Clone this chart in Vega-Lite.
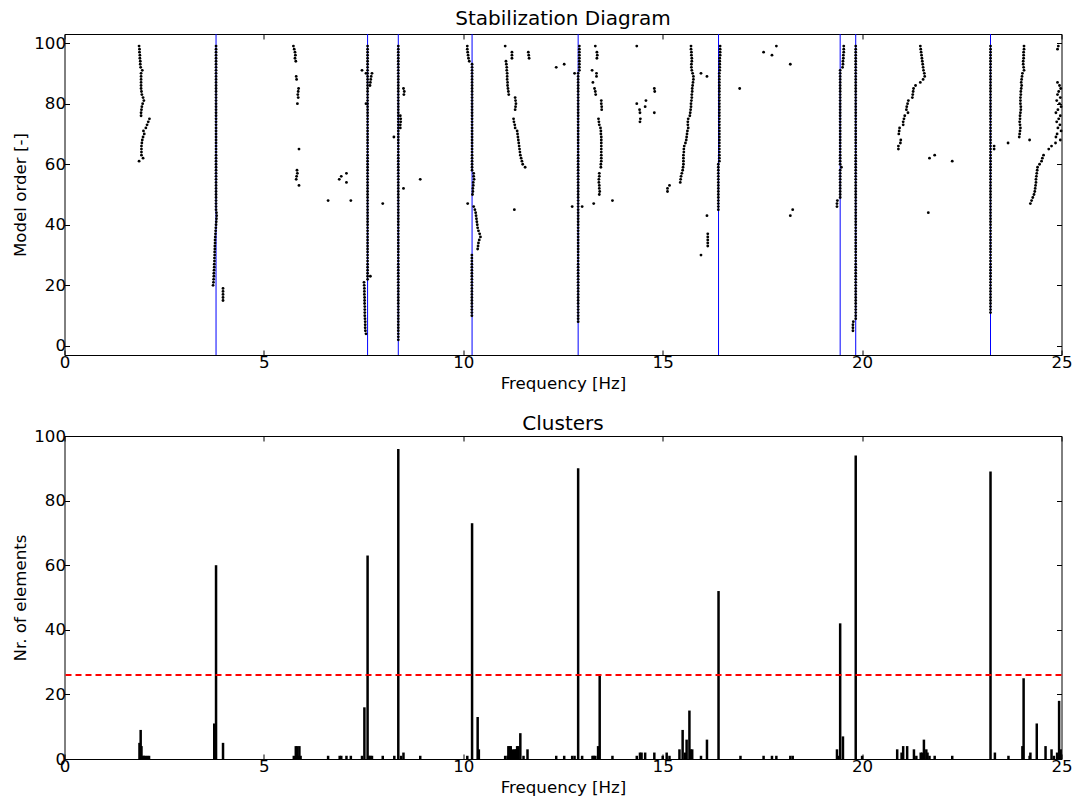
{
"$schema": "https://vega.github.io/schema/vega-lite/v6.json",
"padding": {"left": 11.5, "top": 8, "right": 10, "bottom": 5},
"bounds": "flush",
"spacing": 81,
"config": {
  "font": "DejaVu Sans",
  "view": {"stroke": "#000000", "strokeWidth": 1},
  "axis": {"labelFont": "DejaVu Sans", "titleFont": "DejaVu Sans", "labelFontSize": 16.67, "titleFontSize": 16.67, "labelColor": "#000000", "titleColor": "#000000", "titleFontWeight": "normal", "grid": false, "domain": false, "tickColor": "#000000", "tickSize": -5, "labelPadding": 4, "titlePadding": 4, "labelOverlap": false, "labelFlush": false},
  "axisX": {"titlePadding": 5},
  "title": {"fontSize": 20, "fontWeight": "normal", "font": "DejaVu Sans", "color": "#000000", "offset": 5}
},
"datasets": {
"lines": [{"f":3.8},{"f":7.6},{"f":8.37},{"f":10.22},{"f":12.88},{"f":16.4},{"f":19.45},{"f":19.84},{"f":23.22}],
"bars": [
{"f":1.88,"c":5},{"f":1.91,"c":9},{"f":1.93,"c":4},{"f":1.96,"c":1},{"f":1.99,"c":1},{"f":2.02,"c":1},{"f":2.07,"c":1},{"f":2.12,"c":1},
{"f":3.755,"c":11},{"f":3.8,"c":60},{"f":3.975,"c":5},
{"f":5.75,"c":1},{"f":5.8,"c":4},{"f":5.82,"c":1},{"f":5.84,"c":4},{"f":5.87,"c":1},{"f":5.89,"c":4},{"f":5.92,"c":1},
{"f":6.61,"c":1},{"f":6.9,"c":1},{"f":6.94,"c":1},{"f":7.07,"c":1},{"f":7.18,"c":1},
{"f":7.46,"c":1},{"f":7.52,"c":16},{"f":7.6,"c":63},{"f":7.64,"c":1},{"f":7.67,"c":1},{"f":7.71,"c":1},{"f":7.98,"c":1},{"f":8.27,"c":1},
{"f":8.37,"c":96},{"f":8.44,"c":1},{"f":8.5,"c":2},{"f":8.92,"c":1},
{"f":10.1,"c":1},{"f":10.22,"c":73},{"f":10.36,"c":13},{"f":10.39,"c":3},
{"f":11.05,"c":1},{"f":11.11,"c":1},{"f":11.13,"c":4},{"f":11.16,"c":4},{"f":11.19,"c":4},{"f":11.22,"c":1},{"f":11.25,"c":3},{"f":11.29,"c":3},{"f":11.32,"c":3},{"f":11.35,"c":4},{"f":11.38,"c":4},{"f":11.43,"c":8},{"f":11.51,"c":1},{"f":11.61,"c":3},
{"f":12.33,"c":1},{"f":12.53,"c":1},{"f":12.73,"c":1},{"f":12.79,"c":1},{"f":12.88,"c":90},{"f":12.98,"c":1},
{"f":13.24,"c":1},{"f":13.27,"c":1},{"f":13.31,"c":1},{"f":13.38,"c":4},{"f":13.42,"c":26},{"f":13.74,"c":1},
{"f":14.35,"c":1},{"f":14.43,"c":2},{"f":14.47,"c":2},{"f":14.56,"c":2},{"f":14.79,"c":2},{"f":15.0,"c":1},{"f":15.1,"c":2},{"f":15.17,"c":1},
{"f":15.42,"c":3},{"f":15.5,"c":9},{"f":15.56,"c":2},{"f":15.6,"c":6},{"f":15.67,"c":15},{"f":15.7,"c":3},{"f":15.74,"c":3},{"f":15.96,"c":1},{"f":16.11,"c":6},
{"f":16.4,"c":52},
{"f":16.95,"c":1},{"f":17.53,"c":1},{"f":17.74,"c":1},{"f":17.85,"c":1},{"f":18.2,"c":1},{"f":18.26,"c":1},
{"f":19.37,"c":3},{"f":19.4,"c":1},{"f":19.45,"c":42},{"f":19.52,"c":7},
{"f":19.84,"c":94},{"f":20.0,"c":1},
{"f":20.88,"c":3},{"f":20.99,"c":2},{"f":21.03,"c":4},{"f":21.13,"c":4},{"f":21.3,"c":3},{"f":21.36,"c":1},{"f":21.47,"c":2},{"f":21.51,"c":2},{"f":21.55,"c":6},{"f":21.61,"c":3},{"f":21.64,"c":2},{"f":21.69,"c":1},{"f":21.82,"c":1},{"f":22.26,"c":1},
{"f":23.22,"c":89},{"f":23.33,"c":2},{"f":23.67,"c":1},
{"f":24.02,"c":4},{"f":24.05,"c":25},{"f":24.2,"c":1},{"f":24.22,"c":2},{"f":24.38,"c":11},{"f":24.6,"c":4},{"f":24.75,"c":3},{"f":24.81,"c":1},{"f":24.89,"c":2},{"f":24.94,"c":18},{"f":24.98,"c":3}
],
"pts": [
{"f":1.87,"o":99},{"f":1.88,"o":98},{"f":1.88,"o":97},{"f":1.89,"o":96},{"f":1.89,"o":95},{"f":1.9,"o":94},{"f":1.9,"o":93},{"f":1.91,"o":92},{"f":1.95,"o":91},{"f":1.92,"o":90},{"f":1.92,"o":89},{"f":1.92,"o":88},{"f":1.92,"o":87},{"f":1.92,"o":86},{"f":1.92,"o":85},{"f":1.93,"o":84},{"f":1.94,"o":83},{"f":1.97,"o":82},{"f":1.99,"o":81},{"f":1.96,"o":80},{"f":1.94,"o":79},{"f":1.93,"o":78},{"f":1.92,"o":77},{"f":1.92,"o":76},{"f":2.13,"o":75},{"f":2.1,"o":74},{"f":2.07,"o":73},{"f":2.04,"o":72},{"f":1.98,"o":71},{"f":2.0,"o":70},{"f":1.97,"o":69},{"f":1.95,"o":68},{"f":1.94,"o":67},{"f":1.93,"o":66},{"f":1.93,"o":65},{"f":1.93,"o":64},{"f":1.93,"o":63},{"f":1.97,"o":62},{"f":1.87,"o":61},
{"f":3.8,"o":45},{"f":3.8,"o":46},{"f":3.8,"o":47},{"f":3.8,"o":48},{"f":3.8,"o":49},{"f":3.8,"o":50},{"f":3.8,"o":51},{"f":3.8,"o":52},{"f":3.8,"o":53},{"f":3.8,"o":54},{"f":3.8,"o":55},{"f":3.8,"o":56},{"f":3.8,"o":57},{"f":3.8,"o":58},{"f":3.8,"o":59},{"f":3.8,"o":60},{"f":3.8,"o":61},{"f":3.8,"o":62},{"f":3.8,"o":63},{"f":3.8,"o":64},{"f":3.8,"o":65},{"f":3.8,"o":66},{"f":3.8,"o":67},{"f":3.8,"o":68},{"f":3.8,"o":69},{"f":3.8,"o":70},{"f":3.8,"o":71},{"f":3.8,"o":72},{"f":3.8,"o":73},{"f":3.8,"o":74},{"f":3.8,"o":75},{"f":3.8,"o":76},{"f":3.8,"o":77},{"f":3.8,"o":78},{"f":3.8,"o":79},{"f":3.8,"o":80},{"f":3.8,"o":81},{"f":3.8,"o":82},{"f":3.8,"o":83},{"f":3.8,"o":84},{"f":3.8,"o":85},{"f":3.8,"o":86},{"f":3.8,"o":87},{"f":3.8,"o":88},{"f":3.8,"o":89},{"f":3.8,"o":90},{"f":3.8,"o":91},{"f":3.8,"o":92},{"f":3.8,"o":93},{"f":3.8,"o":94},{"f":3.8,"o":95},{"f":3.8,"o":96},{"f":3.8,"o":97},{"f":3.8,"o":98},{"f":3.8,"o":99},
{"f":3.81,"o":44},{"f":3.815,"o":43},{"f":3.81,"o":42},{"f":3.805,"o":41},{"f":3.8,"o":40},{"f":3.795,"o":39},{"f":3.79,"o":38},{"f":3.785,"o":37},{"f":3.78,"o":36},{"f":3.775,"o":35},{"f":3.775,"o":34},{"f":3.77,"o":33},{"f":3.77,"o":32},{"f":3.765,"o":31},{"f":3.765,"o":30},{"f":3.76,"o":29},{"f":3.76,"o":28},{"f":3.755,"o":27},{"f":3.755,"o":26},{"f":3.75,"o":25},{"f":3.745,"o":24},{"f":3.745,"o":23},{"f":3.74,"o":22},{"f":3.735,"o":21},{"f":3.725,"o":20},
{"f":3.975,"o":15},{"f":3.975,"o":16},{"f":3.975,"o":17},{"f":3.975,"o":18},{"f":3.975,"o":19},
{"f":5.74,"o":99},{"f":5.76,"o":98},{"f":5.78,"o":97},{"f":5.79,"o":96},{"f":5.78,"o":95},{"f":5.8,"o":94},{"f":5.81,"o":89},{"f":5.82,"o":88},{"f":5.87,"o":85},{"f":5.86,"o":84},{"f":5.85,"o":83},{"f":5.86,"o":82},{"f":5.84,"o":80},{"f":5.88,"o":65},{"f":5.83,"o":58},{"f":5.84,"o":57},{"f":5.82,"o":56},{"f":5.81,"o":55},{"f":5.88,"o":53},
{"f":6.61,"o":48},{"f":6.89,"o":55},{"f":6.94,"o":56},{"f":7.07,"o":57},{"f":7.07,"o":54},{"f":7.18,"o":48},{"f":7.46,"o":91},{"f":7.56,"o":90},{"f":7.98,"o":47},
{"f":7.6,"o":22},{"f":7.6,"o":23},{"f":7.6,"o":24},{"f":7.6,"o":25},{"f":7.6,"o":26},{"f":7.6,"o":27},{"f":7.6,"o":28},{"f":7.6,"o":29},{"f":7.6,"o":30},{"f":7.6,"o":31},{"f":7.6,"o":32},{"f":7.6,"o":33},{"f":7.6,"o":34},{"f":7.6,"o":35},{"f":7.6,"o":36},{"f":7.6,"o":37},{"f":7.6,"o":38},{"f":7.6,"o":39},{"f":7.6,"o":40},{"f":7.6,"o":41},{"f":7.6,"o":42},{"f":7.6,"o":43},{"f":7.6,"o":44},{"f":7.6,"o":45},{"f":7.6,"o":46},{"f":7.6,"o":47},{"f":7.6,"o":48},{"f":7.6,"o":49},{"f":7.6,"o":50},{"f":7.6,"o":51},{"f":7.6,"o":52},{"f":7.6,"o":53},{"f":7.6,"o":54},{"f":7.6,"o":55},{"f":7.6,"o":56},{"f":7.6,"o":57},{"f":7.6,"o":58},{"f":7.6,"o":59},{"f":7.6,"o":60},{"f":7.6,"o":61},{"f":7.6,"o":62},{"f":7.6,"o":63},{"f":7.6,"o":64},{"f":7.6,"o":65},{"f":7.6,"o":66},{"f":7.6,"o":67},{"f":7.6,"o":68},{"f":7.6,"o":69},{"f":7.6,"o":70},{"f":7.6,"o":71},{"f":7.6,"o":72},{"f":7.6,"o":73},{"f":7.6,"o":74},{"f":7.6,"o":75},{"f":7.6,"o":76},{"f":7.6,"o":77},{"f":7.6,"o":78},{"f":7.6,"o":79},{"f":7.6,"o":80},{"f":7.6,"o":81},{"f":7.6,"o":82},{"f":7.6,"o":83},{"f":7.6,"o":84},{"f":7.6,"o":85},{"f":7.6,"o":86},{"f":7.6,"o":87},{"f":7.6,"o":88},{"f":7.6,"o":89},{"f":7.6,"o":90},{"f":7.6,"o":91},{"f":7.6,"o":92},{"f":7.6,"o":93},{"f":7.6,"o":94},{"f":7.6,"o":95},{"f":7.6,"o":96},{"f":7.6,"o":97},{"f":7.6,"o":98},{"f":7.6,"o":99},
{"f":7.71,"o":90},{"f":7.69,"o":89},{"f":7.68,"o":88},{"f":7.67,"o":87},{"f":7.66,"o":86},{"f":7.56,"o":80},{"f":7.67,"o":23},
{"f":7.51,"o":21},{"f":7.515,"o":20},{"f":7.52,"o":19},{"f":7.52,"o":18},{"f":7.52,"o":17},{"f":7.525,"o":16},{"f":7.525,"o":15},{"f":7.525,"o":14},{"f":7.53,"o":13},{"f":7.53,"o":12},{"f":7.53,"o":11},{"f":7.53,"o":10},{"f":7.535,"o":9},{"f":7.54,"o":8},{"f":7.54,"o":7},{"f":7.54,"o":6},{"f":7.545,"o":5},{"f":7.56,"o":4},
{"f":8.37,"o":2},{"f":8.37,"o":3},{"f":8.37,"o":4},{"f":8.37,"o":5},{"f":8.37,"o":6},{"f":8.37,"o":7},{"f":8.37,"o":8},{"f":8.37,"o":9},{"f":8.37,"o":10},{"f":8.37,"o":11},{"f":8.37,"o":12},{"f":8.37,"o":13},{"f":8.37,"o":14},{"f":8.37,"o":15},{"f":8.37,"o":16},{"f":8.37,"o":17},{"f":8.37,"o":18},{"f":8.37,"o":19},{"f":8.37,"o":20},{"f":8.37,"o":21},{"f":8.37,"o":22},{"f":8.37,"o":23},{"f":8.37,"o":24},{"f":8.37,"o":25},{"f":8.37,"o":26},{"f":8.37,"o":27},{"f":8.37,"o":28},{"f":8.37,"o":29},{"f":8.37,"o":30},{"f":8.37,"o":31},{"f":8.37,"o":32},{"f":8.37,"o":33},{"f":8.37,"o":34},{"f":8.37,"o":35},{"f":8.37,"o":36},{"f":8.37,"o":37},{"f":8.37,"o":38},{"f":8.37,"o":39},{"f":8.37,"o":40},{"f":8.37,"o":41},{"f":8.37,"o":42},{"f":8.37,"o":43},{"f":8.37,"o":44},{"f":8.37,"o":45},{"f":8.37,"o":46},{"f":8.37,"o":47},{"f":8.37,"o":48},{"f":8.37,"o":49},{"f":8.37,"o":50},{"f":8.37,"o":51},{"f":8.37,"o":52},{"f":8.37,"o":53},{"f":8.37,"o":54},{"f":8.37,"o":55},{"f":8.37,"o":56},{"f":8.37,"o":57},{"f":8.37,"o":58},{"f":8.37,"o":59},{"f":8.37,"o":60},{"f":8.37,"o":61},{"f":8.37,"o":62},{"f":8.37,"o":63},{"f":8.37,"o":64},{"f":8.37,"o":65},{"f":8.37,"o":66},{"f":8.37,"o":67},{"f":8.37,"o":68},{"f":8.37,"o":69},{"f":8.37,"o":70},{"f":8.37,"o":71},{"f":8.37,"o":72},{"f":8.37,"o":73},{"f":8.37,"o":74},{"f":8.37,"o":75},{"f":8.37,"o":76},{"f":8.37,"o":77},{"f":8.37,"o":78},{"f":8.37,"o":79},{"f":8.37,"o":80},{"f":8.37,"o":81},{"f":8.37,"o":82},{"f":8.37,"o":83},{"f":8.37,"o":84},{"f":8.37,"o":85},{"f":8.37,"o":86},{"f":8.37,"o":87},{"f":8.37,"o":88},{"f":8.37,"o":89},{"f":8.37,"o":90},{"f":8.37,"o":91},{"f":8.37,"o":92},{"f":8.37,"o":93},{"f":8.37,"o":94},{"f":8.37,"o":95},{"f":8.37,"o":96},{"f":8.37,"o":97},{"f":8.37,"o":98},{"f":8.37,"o":99},
{"f":8.5,"o":85},{"f":8.52,"o":84},{"f":8.51,"o":83},{"f":8.42,"o":76},{"f":8.43,"o":75},{"f":8.43,"o":74},{"f":8.42,"o":73},{"f":8.42,"o":72},{"f":8.26,"o":69},{"f":8.92,"o":55},{"f":8.5,"o":52},
{"f":10.215,"o":10},{"f":10.215,"o":11},{"f":10.215,"o":12},{"f":10.215,"o":13},{"f":10.215,"o":14},{"f":10.215,"o":15},{"f":10.215,"o":16},{"f":10.215,"o":17},{"f":10.215,"o":18},{"f":10.215,"o":19},{"f":10.215,"o":20},{"f":10.215,"o":21},{"f":10.215,"o":22},{"f":10.215,"o":23},{"f":10.215,"o":24},{"f":10.215,"o":25},{"f":10.215,"o":26},{"f":10.215,"o":27},{"f":10.215,"o":28},{"f":10.215,"o":29},{"f":10.215,"o":30},
{"f":10.22,"o":58},{"f":10.22,"o":59},{"f":10.22,"o":60},{"f":10.22,"o":61},{"f":10.22,"o":62},{"f":10.22,"o":63},{"f":10.22,"o":64},{"f":10.22,"o":65},{"f":10.22,"o":66},{"f":10.22,"o":67},{"f":10.22,"o":68},{"f":10.22,"o":69},{"f":10.22,"o":70},{"f":10.22,"o":71},{"f":10.22,"o":72},{"f":10.22,"o":73},{"f":10.22,"o":74},{"f":10.22,"o":75},{"f":10.22,"o":76},{"f":10.22,"o":77},{"f":10.22,"o":78},{"f":10.22,"o":79},{"f":10.22,"o":80},{"f":10.22,"o":81},{"f":10.22,"o":82},{"f":10.22,"o":83},{"f":10.22,"o":84},{"f":10.22,"o":85},{"f":10.22,"o":86},{"f":10.22,"o":87},{"f":10.22,"o":88},{"f":10.22,"o":89},{"f":10.22,"o":90},{"f":10.22,"o":91},{"f":10.22,"o":92},{"f":10.22,"o":93},
{"f":10.15,"o":94},{"f":10.13,"o":95},{"f":10.12,"o":96},{"f":10.11,"o":97},{"f":10.1,"o":98},{"f":10.1,"o":99},
{"f":10.26,"o":57},{"f":10.26,"o":56},{"f":10.27,"o":55},{"f":10.25,"o":54},{"f":10.25,"o":53},{"f":10.24,"o":52},{"f":10.24,"o":51},{"f":10.23,"o":50},{"f":10.11,"o":47},
{"f":10.26,"o":46},{"f":10.29,"o":45},{"f":10.31,"o":44},{"f":10.32,"o":43},{"f":10.33,"o":42},{"f":10.34,"o":41},{"f":10.35,"o":40},{"f":10.36,"o":39},{"f":10.38,"o":38},{"f":10.41,"o":37},{"f":10.43,"o":36},{"f":10.4,"o":35},{"f":10.38,"o":34},{"f":10.37,"o":33},{"f":10.36,"o":32},
{"f":11.05,"o":99},{"f":11.22,"o":97},{"f":11.22,"o":96},{"f":11.22,"o":95},{"f":11.07,"o":94},{"f":11.08,"o":93},{"f":11.09,"o":92},{"f":11.09,"o":91},{"f":11.1,"o":90},{"f":11.1,"o":89},{"f":11.1,"o":88},{"f":11.11,"o":87},{"f":11.11,"o":86},{"f":11.12,"o":85},{"f":11.13,"o":84},{"f":11.14,"o":83},{"f":11.3,"o":82},{"f":11.31,"o":81},{"f":11.32,"o":80},{"f":11.31,"o":79},{"f":11.3,"o":78},{"f":11.26,"o":75},{"f":11.27,"o":74},{"f":11.29,"o":73},{"f":11.3,"o":72},{"f":11.35,"o":71},{"f":11.36,"o":70},{"f":11.37,"o":69},{"f":11.38,"o":68},{"f":11.39,"o":67},{"f":11.4,"o":66},{"f":11.41,"o":65},{"f":11.42,"o":64},{"f":11.43,"o":63},{"f":11.45,"o":62},{"f":11.47,"o":61},{"f":11.49,"o":60},{"f":11.55,"o":59},
{"f":11.28,"o":45},{"f":11.63,"o":97},{"f":11.64,"o":96},{"f":11.65,"o":95},
{"f":12.33,"o":92},{"f":12.53,"o":93},{"f":12.79,"o":90},{"f":12.73,"o":46},{"f":12.98,"o":46},
{"f":12.88,"o":8},{"f":12.88,"o":9},{"f":12.88,"o":10},{"f":12.88,"o":11},{"f":12.88,"o":12},{"f":12.88,"o":13},{"f":12.88,"o":14},{"f":12.88,"o":15},{"f":12.88,"o":16},{"f":12.88,"o":17},{"f":12.88,"o":18},{"f":12.88,"o":19},{"f":12.88,"o":20},{"f":12.88,"o":21},{"f":12.88,"o":22},{"f":12.88,"o":23},{"f":12.88,"o":24},{"f":12.88,"o":25},{"f":12.88,"o":26},{"f":12.88,"o":27},{"f":12.88,"o":28},{"f":12.88,"o":29},{"f":12.88,"o":30},{"f":12.88,"o":31},{"f":12.88,"o":32},{"f":12.88,"o":33},{"f":12.88,"o":34},{"f":12.88,"o":35},{"f":12.88,"o":36},{"f":12.88,"o":37},{"f":12.88,"o":38},{"f":12.88,"o":39},{"f":12.88,"o":40},{"f":12.88,"o":41},{"f":12.88,"o":42},{"f":12.88,"o":43},{"f":12.88,"o":44},{"f":12.88,"o":45},{"f":12.88,"o":46},{"f":12.88,"o":47},{"f":12.88,"o":48},{"f":12.88,"o":49},{"f":12.88,"o":50},{"f":12.88,"o":51},{"f":12.88,"o":52},{"f":12.88,"o":53},{"f":12.88,"o":54},{"f":12.88,"o":55},{"f":12.88,"o":56},{"f":12.88,"o":57},{"f":12.88,"o":58},{"f":12.88,"o":59},{"f":12.88,"o":60},{"f":12.88,"o":61},{"f":12.88,"o":62},{"f":12.88,"o":63},{"f":12.88,"o":64},{"f":12.88,"o":65},{"f":12.88,"o":66},{"f":12.88,"o":67},{"f":12.88,"o":68},{"f":12.88,"o":69},{"f":12.88,"o":70},{"f":12.88,"o":71},{"f":12.88,"o":72},{"f":12.88,"o":73},{"f":12.88,"o":74},{"f":12.88,"o":75},{"f":12.88,"o":76},{"f":12.88,"o":77},{"f":12.88,"o":78},{"f":12.88,"o":79},{"f":12.88,"o":80},{"f":12.88,"o":81},{"f":12.88,"o":82},{"f":12.88,"o":83},{"f":12.88,"o":84},{"f":12.88,"o":85},{"f":12.88,"o":86},{"f":12.88,"o":87},{"f":12.88,"o":88},{"f":12.88,"o":89},{"f":12.88,"o":90},{"f":12.91,"o":91},{"f":12.91,"o":92},{"f":12.91,"o":93},{"f":12.91,"o":94},{"f":12.91,"o":95},{"f":12.91,"o":96},{"f":12.91,"o":97},{"f":12.91,"o":98},{"f":12.91,"o":99},
{"f":13.31,"o":99},{"f":13.35,"o":97},{"f":13.36,"o":96},{"f":13.35,"o":95},{"f":13.23,"o":91},{"f":13.34,"o":90},{"f":13.34,"o":89},{"f":13.25,"o":87},{"f":13.29,"o":85},{"f":13.31,"o":84},{"f":13.32,"o":83},{"f":13.46,"o":81},{"f":13.46,"o":80},{"f":13.47,"o":79},{"f":13.47,"o":78},{"f":13.39,"o":75},{"f":13.4,"o":74},{"f":13.41,"o":73},{"f":13.44,"o":72},{"f":13.45,"o":71},{"f":13.45,"o":70},{"f":13.46,"o":69},{"f":13.46,"o":68},{"f":13.46,"o":67},{"f":13.46,"o":66},{"f":13.46,"o":65},{"f":13.46,"o":64},{"f":13.46,"o":63},{"f":13.46,"o":62},{"f":13.46,"o":61},{"f":13.45,"o":60},{"f":13.45,"o":59},{"f":13.41,"o":57},{"f":13.41,"o":56},{"f":13.4,"o":55},{"f":13.4,"o":54},{"f":13.41,"o":53},{"f":13.41,"o":52},{"f":13.42,"o":51},{"f":13.41,"o":50},{"f":13.74,"o":48},{"f":13.27,"o":47},
{"f":14.35,"o":99},{"f":14.35,"o":80},{"f":14.42,"o":78},{"f":14.43,"o":77},{"f":14.44,"o":75},{"f":14.43,"o":74},{"f":14.56,"o":79},{"f":14.58,"o":81},{"f":14.79,"o":77},{"f":14.79,"o":85},{"f":14.8,"o":84},
{"f":15.71,"o":99},{"f":15.71,"o":98},{"f":15.72,"o":97},{"f":15.72,"o":96},{"f":15.73,"o":95},{"f":15.73,"o":94},{"f":15.72,"o":93},{"f":15.72,"o":92},{"f":15.73,"o":91},{"f":15.75,"o":90},{"f":15.77,"o":89},{"f":15.77,"o":88},{"f":15.76,"o":87},{"f":15.75,"o":86},{"f":15.74,"o":85},{"f":15.74,"o":84},{"f":15.73,"o":83},{"f":15.73,"o":82},{"f":15.72,"o":81},{"f":15.71,"o":80},{"f":15.71,"o":79},{"f":15.7,"o":78},{"f":15.69,"o":77},{"f":15.68,"o":76},{"f":15.64,"o":75},{"f":15.63,"o":74},{"f":15.63,"o":73},{"f":15.64,"o":72},{"f":15.62,"o":71},{"f":15.61,"o":70},{"f":15.6,"o":69},{"f":15.59,"o":68},{"f":15.57,"o":67},{"f":15.54,"o":66},{"f":15.53,"o":65},{"f":15.53,"o":64},{"f":15.52,"o":63},{"f":15.52,"o":62},{"f":15.52,"o":61},{"f":15.52,"o":60},{"f":15.51,"o":59},{"f":15.5,"o":58},{"f":15.48,"o":57},{"f":15.46,"o":56},{"f":15.45,"o":55},{"f":15.44,"o":54},{"f":15.17,"o":53},{"f":15.12,"o":52},{"f":15.12,"o":51},
{"f":15.96,"o":90},{"f":16.11,"o":89},{"f":16.11,"o":43},{"f":16.13,"o":37},{"f":16.13,"o":36},{"f":16.13,"o":35},{"f":16.13,"o":34},{"f":16.13,"o":33},{"f":15.96,"o":30},
{"f":16.395,"o":45},{"f":16.395,"o":46},{"f":16.395,"o":47},{"f":16.395,"o":48},{"f":16.395,"o":49},{"f":16.395,"o":50},{"f":16.395,"o":51},{"f":16.395,"o":52},{"f":16.395,"o":53},{"f":16.395,"o":54},{"f":16.395,"o":55},{"f":16.395,"o":56},{"f":16.395,"o":57},{"f":16.395,"o":58},{"f":16.395,"o":59},{"f":16.395,"o":60},{"f":16.42,"o":61},{"f":16.42,"o":62},{"f":16.42,"o":63},{"f":16.42,"o":64},{"f":16.42,"o":65},{"f":16.42,"o":66},{"f":16.42,"o":67},{"f":16.42,"o":68},{"f":16.42,"o":69},{"f":16.42,"o":70},{"f":16.42,"o":71},{"f":16.42,"o":72},{"f":16.42,"o":73},{"f":16.42,"o":74},{"f":16.42,"o":75},{"f":16.42,"o":76},{"f":16.42,"o":77},{"f":16.42,"o":78},{"f":16.42,"o":79},{"f":16.42,"o":80},{"f":16.42,"o":81},{"f":16.42,"o":82},{"f":16.42,"o":83},{"f":16.42,"o":84},{"f":16.42,"o":85},{"f":16.42,"o":86},{"f":16.42,"o":87},{"f":16.42,"o":88},{"f":16.42,"o":89},{"f":16.42,"o":90},{"f":16.43,"o":91},{"f":16.43,"o":92},{"f":16.43,"o":93},{"f":16.43,"o":94},{"f":16.43,"o":95},{"f":16.44,"o":96},{"f":16.44,"o":97},{"f":16.44,"o":98},{"f":16.44,"o":99},
{"f":16.93,"o":85},{"f":17.53,"o":97},{"f":17.74,"o":96},{"f":17.85,"o":99},{"f":18.2,"o":93},{"f":18.26,"o":45},{"f":18.2,"o":43},
{"f":19.37,"o":46},{"f":19.37,"o":47},{"f":19.38,"o":48},{"f":19.45,"o":49},{"f":19.45,"o":50},{"f":19.45,"o":51},{"f":19.45,"o":52},{"f":19.45,"o":53},{"f":19.45,"o":54},{"f":19.45,"o":55},{"f":19.45,"o":56},{"f":19.45,"o":57},{"f":19.45,"o":58},{"f":19.48,"o":59},{"f":19.45,"o":60},{"f":19.45,"o":61},{"f":19.45,"o":62},{"f":19.45,"o":63},{"f":19.45,"o":64},{"f":19.45,"o":65},{"f":19.45,"o":66},{"f":19.45,"o":67},{"f":19.45,"o":68},{"f":19.45,"o":69},{"f":19.45,"o":70},{"f":19.45,"o":71},{"f":19.45,"o":72},{"f":19.45,"o":73},{"f":19.45,"o":74},{"f":19.45,"o":75},{"f":19.45,"o":76},{"f":19.45,"o":77},{"f":19.45,"o":78},{"f":19.45,"o":79},{"f":19.45,"o":80},{"f":19.45,"o":81},{"f":19.45,"o":82},{"f":19.45,"o":83},{"f":19.45,"o":84},{"f":19.45,"o":85},{"f":19.45,"o":86},{"f":19.45,"o":87},{"f":19.45,"o":88},{"f":19.45,"o":89},{"f":19.45,"o":90},{"f":19.45,"o":91},{"f":19.51,"o":92},{"f":19.52,"o":93},{"f":19.52,"o":94},{"f":19.53,"o":95},{"f":19.53,"o":96},{"f":19.54,"o":97},{"f":19.54,"o":98},{"f":19.54,"o":99},
{"f":19.77,"o":5},{"f":19.77,"o":6},{"f":19.77,"o":7},{"f":19.78,"o":8},
{"f":19.84,"o":9},{"f":19.84,"o":10},{"f":19.84,"o":11},{"f":19.84,"o":12},{"f":19.84,"o":13},{"f":19.84,"o":14},{"f":19.84,"o":15},{"f":19.84,"o":16},{"f":19.84,"o":17},{"f":19.84,"o":18},{"f":19.84,"o":19},{"f":19.84,"o":20},{"f":19.84,"o":21},{"f":19.84,"o":22},{"f":19.84,"o":23},{"f":19.84,"o":24},{"f":19.84,"o":25},{"f":19.84,"o":26},{"f":19.84,"o":27},{"f":19.84,"o":28},{"f":19.84,"o":29},{"f":19.84,"o":30},{"f":19.84,"o":31},{"f":19.84,"o":32},{"f":19.84,"o":33},{"f":19.84,"o":34},{"f":19.84,"o":35},{"f":19.84,"o":36},{"f":19.84,"o":37},{"f":19.84,"o":38},{"f":19.84,"o":39},{"f":19.84,"o":40},{"f":19.84,"o":41},{"f":19.84,"o":42},{"f":19.84,"o":43},{"f":19.84,"o":44},{"f":19.84,"o":45},{"f":19.84,"o":46},{"f":19.84,"o":47},{"f":19.84,"o":48},{"f":19.84,"o":49},{"f":19.84,"o":50},{"f":19.84,"o":51},{"f":19.84,"o":52},{"f":19.84,"o":53},{"f":19.84,"o":54},{"f":19.84,"o":55},{"f":19.84,"o":56},{"f":19.84,"o":57},{"f":19.84,"o":58},{"f":19.84,"o":59},{"f":19.84,"o":60},{"f":19.84,"o":61},{"f":19.84,"o":62},{"f":19.84,"o":63},{"f":19.84,"o":64},{"f":19.84,"o":65},{"f":19.84,"o":66},{"f":19.84,"o":67},{"f":19.84,"o":68},{"f":19.84,"o":69},{"f":19.84,"o":70},{"f":19.84,"o":71},{"f":19.84,"o":72},{"f":19.84,"o":73},{"f":19.84,"o":74},{"f":19.84,"o":75},{"f":19.84,"o":76},{"f":19.84,"o":77},{"f":19.84,"o":78},{"f":19.84,"o":79},{"f":19.84,"o":80},{"f":19.84,"o":81},{"f":19.84,"o":82},{"f":19.84,"o":83},{"f":19.84,"o":84},{"f":19.84,"o":85},{"f":19.84,"o":86},{"f":19.84,"o":87},{"f":19.84,"o":88},{"f":19.84,"o":89},{"f":19.84,"o":90},{"f":19.84,"o":91},{"f":19.84,"o":92},{"f":19.84,"o":93},{"f":19.84,"o":94},{"f":19.84,"o":95},{"f":19.84,"o":96},{"f":19.84,"o":97},{"f":19.84,"o":98},{"f":19.84,"o":99},
{"f":21.46,"o":99},{"f":21.47,"o":98},{"f":21.48,"o":97},{"f":21.49,"o":96},{"f":21.5,"o":95},{"f":21.51,"o":94},{"f":21.52,"o":93},{"f":21.53,"o":92},{"f":21.54,"o":91},{"f":21.56,"o":90},{"f":21.57,"o":89},{"f":21.53,"o":88},{"f":21.46,"o":87},{"f":21.34,"o":86},{"f":21.29,"o":85},{"f":21.28,"o":84},{"f":21.27,"o":83},{"f":21.26,"o":82},{"f":21.16,"o":81},{"f":21.14,"o":80},{"f":21.12,"o":79},{"f":21.11,"o":78},{"f":21.15,"o":77},{"f":21.07,"o":76},{"f":21.05,"o":75},{"f":21.03,"o":74},{"f":21.03,"o":73},{"f":20.94,"o":72},{"f":20.93,"o":71},{"f":20.92,"o":70},{"f":20.97,"o":68},{"f":20.96,"o":67},{"f":20.91,"o":66},{"f":20.91,"o":65},
{"f":21.69,"o":62},{"f":21.82,"o":63},{"f":22.26,"o":61},{"f":21.66,"o":44},
{"f":23.22,"o":11},{"f":23.22,"o":12},{"f":23.22,"o":13},{"f":23.22,"o":14},{"f":23.22,"o":15},{"f":23.22,"o":16},{"f":23.22,"o":17},{"f":23.22,"o":18},{"f":23.22,"o":19},{"f":23.22,"o":20},{"f":23.22,"o":21},{"f":23.22,"o":22},{"f":23.22,"o":23},{"f":23.22,"o":24},{"f":23.22,"o":25},{"f":23.22,"o":26},{"f":23.22,"o":27},{"f":23.22,"o":28},{"f":23.22,"o":29},{"f":23.22,"o":30},{"f":23.22,"o":31},{"f":23.22,"o":32},{"f":23.22,"o":33},{"f":23.22,"o":34},{"f":23.22,"o":35},{"f":23.22,"o":36},{"f":23.22,"o":37},{"f":23.22,"o":38},{"f":23.22,"o":39},{"f":23.22,"o":40},{"f":23.22,"o":41},{"f":23.22,"o":42},{"f":23.22,"o":43},{"f":23.22,"o":44},{"f":23.22,"o":45},{"f":23.22,"o":46},{"f":23.22,"o":47},{"f":23.22,"o":48},{"f":23.22,"o":49},{"f":23.22,"o":50},{"f":23.22,"o":51},{"f":23.22,"o":52},{"f":23.22,"o":53},{"f":23.22,"o":54},{"f":23.22,"o":55},{"f":23.22,"o":56},{"f":23.22,"o":57},{"f":23.22,"o":58},{"f":23.22,"o":59},{"f":23.22,"o":60},{"f":23.22,"o":61},{"f":23.22,"o":62},{"f":23.22,"o":63},{"f":23.22,"o":64},{"f":23.22,"o":65},{"f":23.22,"o":66},{"f":23.22,"o":67},{"f":23.22,"o":68},{"f":23.22,"o":69},{"f":23.22,"o":70},{"f":23.22,"o":71},{"f":23.22,"o":72},{"f":23.22,"o":73},{"f":23.22,"o":74},{"f":23.22,"o":75},{"f":23.22,"o":76},{"f":23.22,"o":77},{"f":23.22,"o":78},{"f":23.22,"o":79},{"f":23.22,"o":80},{"f":23.22,"o":81},{"f":23.22,"o":82},{"f":23.22,"o":83},{"f":23.22,"o":84},{"f":23.22,"o":85},{"f":23.22,"o":86},{"f":23.22,"o":87},{"f":23.22,"o":88},{"f":23.22,"o":89},{"f":23.22,"o":90},{"f":23.22,"o":91},{"f":23.22,"o":92},{"f":23.22,"o":93},{"f":23.22,"o":94},{"f":23.22,"o":95},{"f":23.22,"o":96},{"f":23.22,"o":97},{"f":23.22,"o":98},{"f":23.22,"o":99},
{"f":23.31,"o":66},{"f":23.31,"o":65},
{"f":24.06,"o":99},{"f":24.06,"o":98},{"f":24.05,"o":97},{"f":24.05,"o":96},{"f":24.05,"o":95},{"f":24.04,"o":94},{"f":24.04,"o":93},{"f":24.05,"o":92},{"f":24.06,"o":91},{"f":24.02,"o":90},{"f":24.01,"o":89},{"f":24.0,"o":88},{"f":23.99,"o":87},{"f":24.0,"o":86},{"f":23.99,"o":85},{"f":23.98,"o":84},{"f":23.98,"o":83},{"f":23.97,"o":82},{"f":23.97,"o":81},{"f":23.97,"o":80},{"f":23.98,"o":79},{"f":23.98,"o":78},{"f":23.97,"o":77},{"f":23.96,"o":76},{"f":23.96,"o":75},{"f":23.95,"o":74},{"f":23.96,"o":73},{"f":23.97,"o":72},{"f":23.96,"o":71},{"f":23.95,"o":70},{"f":23.94,"o":69},{"f":24.2,"o":68},{"f":23.66,"o":67},
{"f":24.22,"o":47},{"f":24.25,"o":48},{"f":24.28,"o":49},{"f":24.31,"o":50},{"f":24.33,"o":51},{"f":24.34,"o":52},{"f":24.35,"o":53},{"f":24.36,"o":54},{"f":24.36,"o":55},{"f":24.37,"o":56},{"f":24.38,"o":57},{"f":24.39,"o":58},{"f":24.4,"o":59},{"f":24.45,"o":60},{"f":24.5,"o":61},{"f":24.52,"o":62},{"f":24.55,"o":63},{"f":24.68,"o":65},{"f":24.75,"o":66},{"f":24.85,"o":67},
{"f":24.92,"o":99},{"f":24.9,"o":98},{"f":24.9,"o":87},{"f":24.95,"o":86},{"f":24.98,"o":85},{"f":24.93,"o":84},{"f":24.9,"o":83},{"f":24.97,"o":82},{"f":24.88,"o":81},{"f":24.95,"o":80},{"f":24.99,"o":79},{"f":24.91,"o":78},{"f":24.86,"o":77},{"f":24.97,"o":76},{"f":24.93,"o":75},{"f":24.88,"o":74},{"f":24.96,"o":73},{"f":24.91,"o":72},{"f":24.99,"o":71},{"f":24.89,"o":70},{"f":24.86,"o":69},{"f":24.97,"o":68}
]
},
"vconcat": [
{
"width": 997, "height": 321,
"title": "Stabilization Diagram",
"layer": [
{"data": {"name": "lines"}, "mark": {"type": "rule", "color": "#0000ff", "strokeWidth": 1},
 "encoding": {"x": {"field": "f", "type": "quantitative", "scale": {"domain": [0, 25], "nice": false, "padding": 0}, "axis": {"orient": "top", "labels": false, "title": null, "values": [0,5,10,15,20,25]}}}},
{"data": {"name": "pts"}, "mark": {"type": "point", "shape": "circle", "filled": true, "size": 8, "color": "#000000", "opacity": 1},
 "encoding": {
  "x": {"field": "f", "type": "quantitative", "scale": {"domain": [0, 25], "nice": false, "padding": 0}, "axis": {"orient": "bottom", "title": "Frequency [Hz]", "values": [0,5,10,15,20,25]}},
  "y": {"field": "o", "type": "quantitative", "scale": {"domain": [-3, 103], "nice": false, "zero": false}, "axis": {"orient": "left", "title": "Model order [-]", "values": [0,20,40,60,80,100]}}}},
{"data": {"name": "pts"}, "mark": {"type": "point", "opacity": 0},
 "encoding": {
  "y": {"field": "o", "type": "quantitative", "axis": {"orient": "right", "labels": false, "title": null, "values": [0,20,40,60,80,100]}}}}
]
},
{
"width": 997, "height": 323,
"title": {"text": "Clusters", "offset": -6},
"layer": [
{"data": {"name": "bars"}, "mark": {"type": "rule", "color": "#000000", "strokeWidth": 2.5},
 "encoding": {
  "x": {"field": "f", "type": "quantitative", "scale": {"domain": [0, 25], "nice": false, "padding": 0}, "axis": {"orient": "bottom", "title": "Frequency [Hz]", "values": [0,5,10,15,20,25]}},
  "y": {"field": "c", "type": "quantitative", "scale": {"domain": [0, 100], "nice": false}, "axis": {"orient": "left", "title": "Nr. of elements", "values": [0,20,40,60,80,100]}},
  "y2": {"datum": 0}}},
{"data": {"name": "bars"}, "mark": {"type": "point", "opacity": 0},
 "encoding": {
  "x": {"field": "f", "type": "quantitative", "axis": {"orient": "top", "labels": false, "title": null, "values": [0,5,10,15,20,25]}},
  "y": {"field": "c", "type": "quantitative", "axis": {"orient": "right", "labels": false, "title": null, "values": [0,20,40,60,80,100]}}}},
{"data": {"values": [{"t": 26}]}, "mark": {"type": "rule", "color": "#ff0000", "strokeWidth": 2, "strokeDash": [6, 4]},
 "encoding": {"y": {"field": "t", "type": "quantitative", "axis": null}}}
]
}
]
}
